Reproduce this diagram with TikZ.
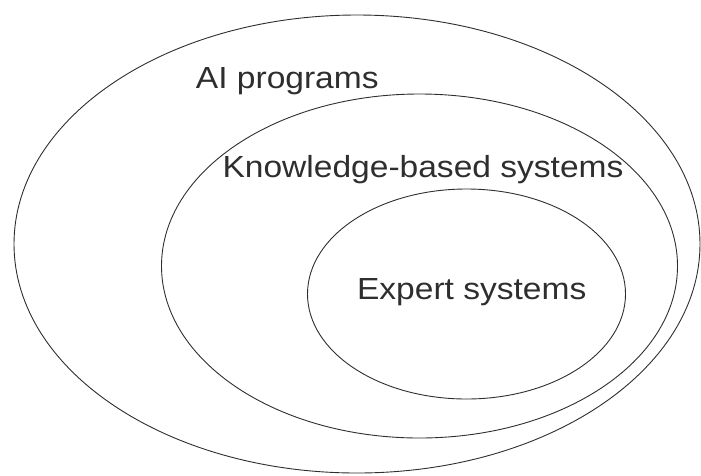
\documentclass[tikz,border=0pt]{standalone}
\usepackage{fontspec}
\setmainfont{Liberation Sans}
\definecolor{ink}{HTML}{2E2E2E}
\tikzset{
  ring/.style={draw=ink, line width=0.9pt},
  lbl/.style={anchor=base, inner sep=0pt, text=ink, xscale=1.1,
              font=\fontsize{30.5}{36}\selectfont}
}
\begin{document}
\begin{tikzpicture}[x=1pt, y=-1pt]
  \useasboundingbox (0,0) rectangle (701,475);
  \draw[ring] (357,244) ellipse [x radius=343pt, y radius=229pt];
  \draw[ring] (419.5,266) ellipse [x radius=258pt, y radius=172pt];
  \draw[ring] (466.5,294) ellipse [x radius=159pt, y radius=105pt];
  \node[lbl] (ai) at (287.3,88.3) {AI programs};
  \node[lbl] (kb) at (423,177.7) {Knowledge-based systems};
  \node[lbl] (es) at (471.7,299.3) {Expert systems};
\end{tikzpicture}
\end{document}
